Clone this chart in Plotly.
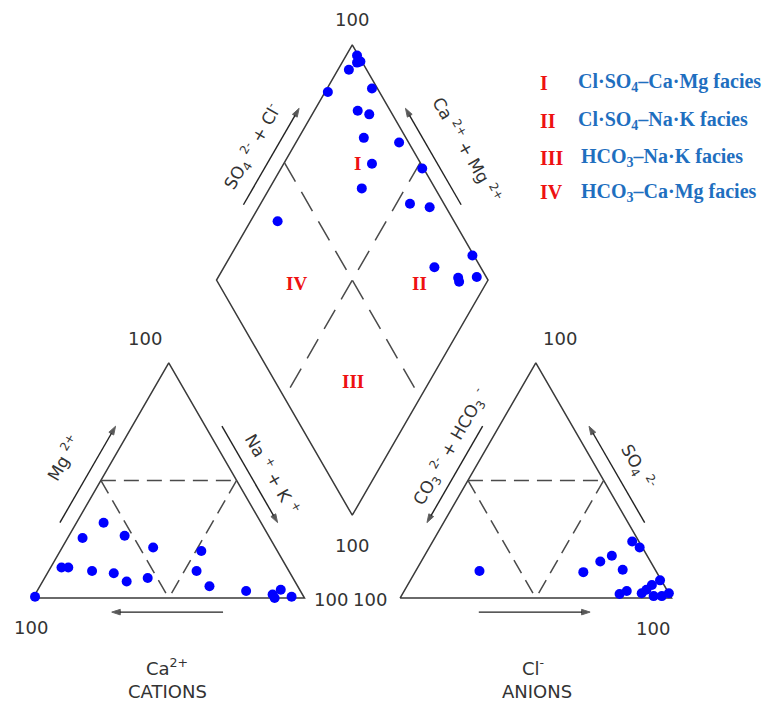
import numpy as np
import plotly.graph_objects as go

# ---------------- data (meq %) ----------------
# Cation triangle samples
cat_ca  = [99, 58, 69, 53, 45, 83, 80.5, 72.5, 65, 62, 53.5, 28, 34, 32.5, 20, 11, 11, 7, 4.5]
cat_mg  = [0.5, 32, 25.5, 26.5, 21.5, 13, 13, 11.5, 10.5, 7, 8.5, 20, 11.5, 5, 3, 1.5, 0, 3.5, 0.5]
cat_nak = [0.5, 10, 5.5, 20.5, 33.5, 4, 6.5, 16, 24.5, 31, 38, 52, 54.5, 62.5, 77, 87.5, 89, 89.5, 95]

# Anion triangle samples
an_cl   = [23.5, 62, 66, 69, 76, 73.5, 77.5, 80, 82, 88, 90, 92, 93, 96, 98, 89]
an_so4  = [11.5, 11, 15.5, 18, 12, 24, 21.5, 1.7, 3, 2, 5.5, 7.5, 0.8, 0.8, 2, 3.5]
an_hco3 = [65, 27, 18.5, 13, 12, 2.5, 1, 18.3, 15, 10, 4.5, 0.5, 6.2, 3.2, 0, 7.5]

# Diamond samples: SO4+Cl (%) and Ca+Mg (%)
dia_so4cl = [99.5, 99.5, 98, 93.5, 81, 98, 88, 91.5, 84.5, 96.5, 82, 99.5, 73, 87.5, 94, 35, 99.5, 83, 89.5, 89, 96.5]
dia_camg  = [96, 93.5, 94.5, 96, 99, 83.5, 84, 79, 76, 62, 67.5, 48, 66, 45, 37, 90, 11, 22.5, 11.5, 10.3, 4.8]

facies_num = ["I", "II", "III", "IV"]
facies_txt = ["Cl·SO<sub>4</sub>–Ca·Mg facies", "Cl·SO<sub>4</sub>–Na·K facies",
              "HCO<sub>3</sub>–Na·K facies", "HCO<sub>3</sub>–Ca·Mg facies"]

# ---------------- geometry ----------------
GAP = 35.2
S3 = np.sqrt(3) / 2
H = 100 * S3
AX0 = 100 + GAP                      # anion triangle origin
BX, BY = 100 + GAP / 2, GAP * S3     # diamond bottom vertex


def cation_xy(ca, mg, nak):
    ca, mg, nak = map(np.asarray, (ca, mg, nak))
    t = ca + mg + nak
    mg, nak = mg / t * 100, nak / t * 100
    return nak + mg / 2, mg * S3


def anion_xy(cl, so4, hco3):
    cl, so4, hco3 = map(np.asarray, (cl, so4, hco3))
    t = cl + so4 + hco3
    cl, so4 = cl / t * 100, so4 / t * 100
    return AX0 + cl + so4 / 2, so4 * S3


def diamond_xy(a, c):
    a, c = np.asarray(a), np.asarray(c)
    return BX + (a - c) / 2, BY + (a + c) * S3


fig = go.Figure()
OUT = dict(color="#3a3a3a", width=1.5)
DASH = dict(color="#4a4a4a", width=1.5, dash="15px,8px")
DASH_D = dict(color="#4a4a4a", width=1.5, dash="22px,12px")


def line(xs, ys, style):
    fig.add_trace(go.Scatter(x=xs, y=ys, mode="lines", line=style,
                             hoverinfo="skip", showlegend=False))


# triangles
for x0 in (0, AX0):
    line([x0, x0 + 100, x0 + 50, x0], [0, 0, H, 0], OUT)
    line([x0 + 25, x0 + 75], [H / 2, H / 2], DASH)
    line([x0 + 25, x0 + 50], [H / 2, 0], DASH)
    line([x0 + 75, x0 + 50], [H / 2, 0], DASH)

# diamond
DL = (BX - 50, BY + H)
DR = (BX + 50, BY + H)
DT = (BX, BY + 2 * H)
line([BX, DL[0], DT[0], DR[0], BX], [BY, DL[1], DT[1], DR[1], BY], OUT)
line([(DL[0] + DT[0]) / 2, (BX + DR[0]) / 2], [(DL[1] + DT[1]) / 2, (BY + DR[1]) / 2], DASH_D)
line([(DR[0] + DT[0]) / 2, (BX + DL[0]) / 2], [(DR[1] + DT[1]) / 2, (BY + DL[1]) / 2], DASH_D)

# sample points
MK = dict(color="#0000ff", size=10)
for xs, ys in (cation_xy(cat_ca, cat_mg, cat_nak),
               anion_xy(an_cl, an_so4, an_hco3),
               diamond_xy(dia_so4cl, dia_camg)):
    fig.add_trace(go.Scatter(x=xs, y=ys, mode="markers", marker=MK,
                             hoverinfo="skip", showlegend=False))


# ---------------- arrows (line + arrow marker) ----------------
def edge_arrow(p0, p1, t_tail, t_head, normal, off=5.3):
    nx, ny = normal
    tx = p0[0] + (p1[0] - p0[0]) * t_tail + nx * off
    ty = p0[1] + (p1[1] - p0[1]) * t_tail + ny * off
    hx = p0[0] + (p1[0] - p0[0]) * t_head + nx * off
    hy = p0[1] + (p1[1] - p0[1]) * t_head + ny * off
    fig.add_trace(go.Scatter(x=[tx, hx], y=[ty, hy], mode="lines+markers",
                             line=dict(color="#222", width=1.4),
                             marker=dict(symbol="arrow", size=[0, 9], color="#111",
                                         angleref="previous", standoff=0),
                             hoverinfo="skip", showlegend=False))


NL, NR, ND = (-S3, 0.5), (S3, 0.5), (0, -1)
# cations
edge_arrow((0, 0), (100, 0), 0.70, 0.29, ND, 5.2)
edge_arrow((0, 0), (50, H), 0.29, 0.70, NL)
edge_arrow((100, 0), (50, H), 0.70, 0.29, NR)
# anions
edge_arrow((AX0, 0), (AX0 + 100, 0), 0.29, 0.70, ND, 5.2)
edge_arrow((AX0, 0), (AX0 + 50, H), 0.70, 0.29, NL)
edge_arrow((AX0 + 100, 0), (AX0 + 50, H), 0.29, 0.70, NR)
# diamond
edge_arrow(DL, DT, 0.29, 0.70, NL)
edge_arrow(DR, DT, 0.29, 0.70, NR)

# ---------------- text ----------------
anns = []
SANS = "DejaVu Sans"
TXT = "#333333"


def text(x, y, s, size=18, color=TXT, family=SANS, angle=0, xanchor="center"):
    anns.append(dict(x=x, y=y, xref="x", yref="y", text=s, showarrow=False,
                     textangle=angle, xanchor=xanchor, yanchor="middle",
                     font=dict(family=family, size=size, color=color)))


# "100" labels
text(41.3, 95.4, "100")
text(194.1, 95.4, "100")
text(117.5, 212.9, "100")
text(117.5, 19.2, "100")
text(109.8, -0.7, "100")
text(124.1, -0.7, "100")
text(-0.7, -11.0, "100")
text(228.4, -11.4, "100")

# axis names
text(49.2, -25.4, "Ca<sup>2+</sup>")
text(49.7, -34.6, "CATIONS")
text(184.2, -25.4, "Cl<sup>-</sup>")
text(185.6, -34.6, "ANIONS")

# rotated side labels
text(11.0, 51.6, "Mg <sup>2+</sup>", 17, angle=-60)
text(88.4, 45.7, "Na <sup>+</sup> + K <sup>+</sup>", 17, angle=60)
text(153.6, 55.6, "CO<sub>3</sub> <sup>2-</sup> + HCO<sub>3</sub> <sup>-</sup>", 17, angle=-60)
text(222.5, 48.3, "SO<sub>4</sub> <sup>2-</sup>", 17, angle=60)
text(80.7, 166.1, "SO<sub>4</sub> <sup>2-</sup> + Cl<sup>-</sup>", 17, angle=-60)
text(160.2, 165.0, "Ca <sup>2+</sup> + Mg <sup>2+</sup>", 17, angle=60)

# facies numerals inside diamond
SERIF = "Liberation Serif"
RED = "#ee1111"
BLUE = "#1f6fbf"
text(119.7, 159.9, "<b>I</b>", 19, RED, SERIF)
text(96.9, 116.0, "<b>IV</b>", 19, RED, SERIF)
text(142.2, 116.0, "<b>II</b>", 19, RED, SERIF)
text(117.9, 79.6, "<b>III</b>", 19, RED, SERIF)

# facies legend
leg_y = [189.7, 175.7, 162.1, 149.5]
leg_tx = [200.0, 200.0, 201.2, 201.2]
for num, lab, yy, tx in zip(facies_num, facies_txt, leg_y, leg_tx):
    text(186.0, yy, "<b>" + num + "</b>", 20, RED, SERIF, xanchor="left")
    text(tx, yy, "<b>" + lab + "</b>", 20, BLUE, SERIF, xanchor="left")

# page body has an 8px margin: figure is 767x699 placed at (8, 8)
K = 2.715
PAD = 8
fig.update_layout(
    width=775 - PAD, height=707 - PAD,
    margin=dict(l=0, r=0, t=0, b=0),
    paper_bgcolor="white", plot_bgcolor="white",
    xaxis=dict(range=[(PAD - 33) / K, (775 - 33) / K], visible=False, fixedrange=True),
    yaxis=dict(range=[(598 - 707) / K, (598 - PAD) / K], visible=False, fixedrange=True),
    annotations=anns,
    showlegend=False,
)
fig.write_html("out.html")
